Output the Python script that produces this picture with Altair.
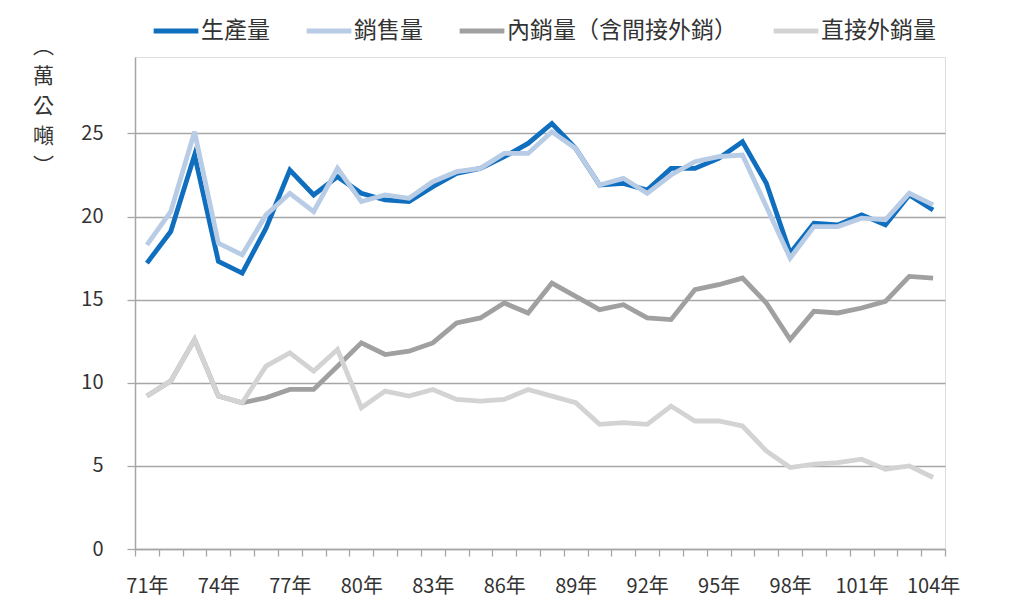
import altair as alt
import pandas as pd

years = list(range(71, 105))

production = [17.2, 19.1, 23.7, 17.3, 16.6, 19.3, 22.8, 21.3, 22.4, 21.4,
              21.0, 20.9, 21.8, 22.6, 22.9, 23.6, 24.4, 25.6, 24.1, 21.9,
              22.0, 21.6, 22.9, 22.9, 23.5, 24.5, 22.0, 17.8, 19.6, 19.5,
              20.1, 19.5, 21.3, 20.4]
sales = [18.3, 20.3, 25.1, 18.4, 17.7, 20.1, 21.4, 20.3, 22.9, 20.9,
         21.3, 21.1, 22.1, 22.7, 22.9, 23.8, 23.8, 25.1, 24.1, 21.9,
         22.3, 21.4, 22.5, 23.3, 23.6, 23.7, 20.6, 17.5, 19.4, 19.4,
         19.9, 19.8, 21.4, 20.7]
domestic = [9.2, 10.1, 12.6, 9.2, 8.8, 9.1, 9.6, 9.6, 11.0, 12.4,
            11.7, 11.9, 12.4, 13.6, 13.9, 14.8, 14.2, 16.0, 15.2, 14.4,
            14.7, 13.9, 13.8, 15.6, 15.9, 16.3, 14.8, 12.6, 14.3, 14.2,
            14.5, 14.9, 16.4, 16.3]
direct_export = [9.2, 10.1, 12.6, 9.2, 8.8, 11.0, 11.8, 10.7, 12.0, 8.5,
                 9.5, 9.2, 9.6, 9.0, 8.9, 9.0, 9.6, 9.2, 8.8, 7.5,
                 7.6, 7.5, 8.6, 7.7, 7.7, 7.4, 5.9, 4.9, 5.1, 5.2,
                 5.4, 4.8, 5.0, 4.3]

series_names = ["生產量", "銷售量", "內銷量（含間接外銷）", "直接外銷量"]
series_colors = ["#0F6EBE", "#B8CCE6", "#A0A0A0", "#D3D3D3"]
y_ticks = [0, 5, 10, 15, 20, 25]
y_title = ["︵", "萬", "公", "噸", "︶"]

rows = []
for name, vals in zip(series_names, [production, sales, domestic, direct_export]):
    for i, (yr, v) in enumerate(zip(years, vals)):
        rows.append({"year": yr, "value": v, "series": name, "order": series_names.index(name)})
df = pd.DataFrame(rows)

boundaries = [y - 0.5 for y in years] + [years[-1] + 0.5]
W, H = 810, 492
FONT = "Noto Sans CJK TC"

chart = alt.Chart(df).mark_line(strokeWidth=4.8, strokeJoin="miter").encode(
    x=alt.X("year:Q",
            scale=alt.Scale(domain=[years[0] - 0.5, years[-1] + 0.5], nice=False, zero=False),
            axis=alt.Axis(values=boundaries, title=None, grid=False,
                          tickSize=7, tickColor="#A6A6A6", tickWidth=1.3,
                          domainColor="#A6A6A6", domainWidth=1.5,
                          labelExpr="((datum.value + 0.5 - 71) % 3 == 0 && datum.value < 104) ? (datum.value + 0.5) + '年' : ''",
                          labelOffset=W / len(years) / 2, labelAlign="center",
                          labelOverlap=False, labelFlush=False, labelBound=False,
                          labelFontSize=20, labelFont=FONT, labelColor="#333333",
                          labelPadding=20)),
    y=alt.Y("value:Q",
            scale=alt.Scale(domain=[0, 29.6], nice=False),
            axis=alt.Axis(values=y_ticks, title=y_title, titleAngle=0,
                          titleAlign="center", titleBaseline="top",
                          titleX=-92, titleY=-22, titleLineHeight=30,
                          titleFontSize=21, titleFont=FONT, titleFontWeight="normal",
                          titleColor="#333333",
                          grid=True, gridColor="#A6A6A6", gridWidth=1.5,
                          tickSize=8, tickColor="#A6A6A6", tickWidth=1.3,
                          domainColor="#A6A6A6", domainWidth=1.5,
                          labelFontSize=20, labelFont=FONT, labelColor="#333333",
                          labelPadding=24)),
    color=alt.Color("series:N",
                    scale=alt.Scale(domain=series_names, range=series_colors),
                    legend=alt.Legend(title=None, orient="none", legendX=16, legendY=-51,
                                      direction="horizontal", columns=4,
                                      symbolType="stroke", symbolSize=2000,
                                      symbolStrokeWidth=5, columnPadding=26,
                                      labelFontSize=23, labelFont=FONT,
                                      labelColor="#333333", labelOffset=0,
                                      labelLimit=400)),
    order=alt.Order("order:Q"),
).properties(
    width=W, height=H,
    autosize=alt.AutoSizeParams(type="none"),
    padding={"left": 135, "top": 57, "right": 79, "bottom": 65},
).configure_view(strokeWidth=0).configure(font=FONT, background="white")

chart.save("out.html", embed_options={"renderer": "svg", "actions": False})
